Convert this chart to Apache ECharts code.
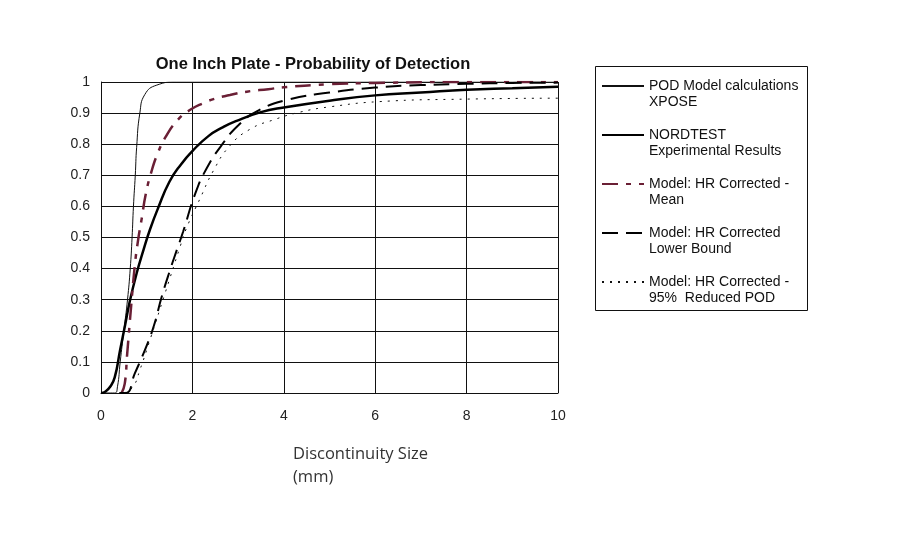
<!DOCTYPE html>
<html>
<head>
<meta charset="utf-8">
<script src="https://cdn.jsdelivr.net/npm/echarts@6/dist/echarts.min.js"></script>
<style>html,body{margin:0;padding:0;background:#fff}#c{width:900px;height:550px}</style>
</head>
<body>
<div id="c"></div>
<script>
const titleText = 'One Inch Plate - Probability of Detection';
const xAxisTitle = ['Discontinuity Size', '(mm)'];
const seriesNames = [
  'POD Model calculations\nXPOSE',
  'NORDTEST\nExperimental Results',
  'Model: HR Corrected -\nMean',
  'Model: HR Corrected\nLower Bound',
  'Model: HR Corrected -\n95%  Reduced POD'
];
const xposeData = [[0,0],[0.3,0],[0.36,0.02],[0.42,0.1],[0.5,0.2],[0.58,0.3],[0.64,0.4],[0.68,0.5],[0.71,0.6],[0.75,0.7],[0.78,0.79],[0.85,0.9],[0.96,0.96],[1.22,0.99],[1.65,1],[3,1],[10,1]];
const nordtestData = [[0,0],[0.1,0.005],[0.2,0.02],[0.3,0.05],[0.42,0.14],[0.53,0.22],[0.63,0.295],[0.78,0.385],[0.93,0.46],[1.07,0.525],[1.25,0.595],[1.5,0.68],[1.75,0.735],[2,0.778],[2.35,0.826],[2.65,0.853],[2.95,0.874],[3.5,0.903],[4,0.918],[5,0.94],[6,0.957],[7,0.966],[8,0.975],[9,0.98],[10,0.985]];
const meanData = [[0.45,0],[0.52,0.03],[0.57,0.12],[0.66,0.28],[0.74,0.41],[0.81,0.49],[0.89,0.56],[0.98,0.64],[1.11,0.715],[1.24,0.77],[1.4,0.82],[1.69,0.88],[1.98,0.913],[2.24,0.932],[2.46,0.945],[2.82,0.958],[3.19,0.969],[3.66,0.977],[4,0.983],[5,0.993],[6,0.997],[8,1],[10,1]];
const lowerData = [[0.4,0],[0.55,0],[0.74,0.063],[0.96,0.138],[1.15,0.213],[1.33,0.31],[1.51,0.395],[1.66,0.46],[1.8,0.52],[2.06,0.64],[2.31,0.722],[2.64,0.797],[3.0,0.86],[3.4,0.905],[4.06,0.942],[5,0.966],[6,0.982],[7,0.99],[8,0.994],[9,0.997],[10,0.998]];
const reducedData = [[0.5,0],[0.7,0.02],[0.85,0.074],[1.07,0.17],[1.4,0.32],[1.73,0.47],[1.87,0.53],[2.17,0.626],[2.46,0.715],[2.82,0.795],[3.26,0.848],[3.77,0.878],[4.35,0.903],[5,0.92],[6.1,0.937],[8,0.945],[10,0.948]];

const chart = echarts.init(document.getElementById('c'), null, {renderer: 'canvas'});
const FONT = 'Liberation Sans';
const mk = (name, data, color, width, type) => ({
  name, type: 'line', data, symbol: 'none', smooth: 0.5,
  lineStyle: {color, width, type}, itemStyle: {color}, animation: false, z: 3
});
chart.setOption({
  animation: false,
  backgroundColor: '#fff',
  title: {
    text: titleText, left: 308, top: 51, textAlign: 'center',
    textStyle: {fontFamily: FONT, fontSize: 16.5, fontWeight: 'bold', color: '#111'}
  },
  grid: {left: 101, right: 342, top: 82, bottom: 157, containLabel: false},
  xAxis: {
    type: 'value', min: 0, max: 10, interval: 2,
    axisLine: {show: true, lineStyle: {color: '#111', width: 1}},
    axisTick: {show: false},
    axisLabel: {margin: 16, fontFamily: FONT, fontSize: 14, color: '#222'},
    splitLine: {show: true, lineStyle: {color: '#111', width: 1}}
  },
  yAxis: {
    type: 'value', min: 0, max: 1, interval: 0.1,
    axisLine: {show: true, lineStyle: {color: '#111', width: 1}},
    axisTick: {show: false},
    axisLabel: {margin: 11, fontFamily: FONT, fontSize: 14, color: '#222'},
    splitLine: {show: true, lineStyle: {color: '#111', width: 1}}
  },
  legend: {
    orient: 'vertical', left: 601, top: 62, padding: 0, itemGap: 1,
    itemWidth: 42, itemHeight: 14, selectedMode: false,
    data: seriesNames,
    formatter: name => '\n' + name,
    itemStyle: {opacity: 0},
    textStyle: {fontFamily: FONT, fontSize: 14, color: '#111', lineHeight: 16}
  },
  graphic: [
    {type: 'rect', shape: {x: 595.5, y: 66.5, width: 212, height: 244}, style: {fill: 'none', stroke: '#111', lineWidth: 1}, z: 0},
    {type: 'text', left: 293, top: 443, style: {text: xAxisTitle.join('\n'), font: '16.5px "Open Sans"', fill: '#333', lineHeight: 23}}
  ],
  series: [
    mk(seriesNames[0], xposeData, '#111', 1, 'solid'),
    mk(seriesNames[1], nordtestData, '#000', 2.5, 'solid'),
    mk(seriesNames[2], meanData, '#6a1f35', 2.5, [16, 8, 5, 8]),
    mk(seriesNames[3], lowerData, '#000', 2, [16, 8]),
    mk(seriesNames[4], reducedData, '#111', 1, [2, 6])
  ]
});
</script>
</body>
</html>
